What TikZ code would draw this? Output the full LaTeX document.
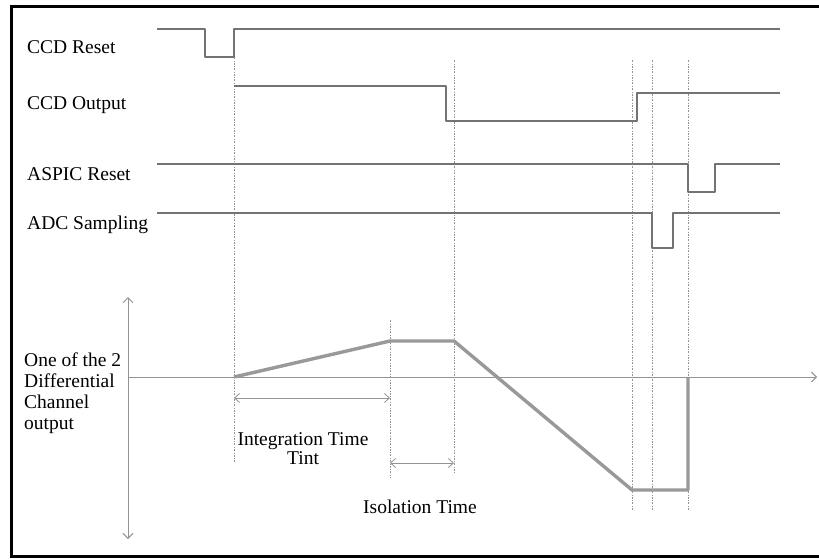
\documentclass[tikz,border=0pt]{standalone}
\usepackage{fontspec}
\setmainfont{Liberation Serif}
\usetikzlibrary{arrows.meta}
\begin{document}
\begin{tikzpicture}[x=1pt,y=-1pt,
  sig/.style={draw=gray!90!black, line width=1.6pt, line join=round},
  wave/.style={draw=gray!80, line width=3.4pt, line join=round},
  guide/.style={draw=gray!85, line width=0.7pt, dash pattern=on 2pt off 1.5pt on 0.6pt off 1.5pt},
  axis/.style={draw=gray!85, line width=1pt},
  dim/.style={draw=gray!85, line width=0.8pt, {Straight Barb[length=5pt,width=9pt]}-{Straight Barb[length=5pt,width=9pt]}},
  lbl/.style={inner sep=0pt, font=\fontsize{19.5}{21}\selectfont}]
\useasboundingbox (0,0) rectangle (819,558);
\fill[white] (0,0) rectangle (819,558);
\draw[line width=3pt] (11,6) rectangle (822,556);

% guide lines
\draw[guide] (234,57) -- (234,462);
\draw[guide] (390,320) -- (390,477);
\draw[guide] (454,60) -- (454,473);
\draw[guide] (632,60) -- (632,510);
\draw[guide] (652,60) -- (652,510);
\draw[guide] (688,60) -- (688,510);

% signals
\draw[sig] (157,29) -- (205,29) -- (205,57) -- (234,57) -- (234,29) -- (780,29);
\draw[sig] (234,86) -- (446,86) -- (446,121) -- (637,121) -- (637,93) -- (780,93);
\draw[sig] (157,164) -- (688,164) -- (688,192) -- (715,192) -- (715,164) -- (780,164);
\draw[sig] (157,213) -- (652,213) -- (652,248) -- (673,248) -- (673,213) -- (780,213);

% labels
\node[lbl, anchor=base west] (l1) at (27,53) {CCD Reset};
\node[lbl, anchor=base west] (l2) at (27,109) {CCD Output};
\node[lbl, anchor=base west] (l3) at (27,180) {ASPIC Reset};
\node[lbl, anchor=base west] (l4) at (27,229) {ADC Sampling};
\node[lbl, anchor=north west, align=left] (l5) at (24,353) {One of the 2\\Differential\\Channel\\output};

% axes
\coordinate (ytop) at (128,297);
\coordinate (ybot) at (128,539);
\coordinate (x0) at (128,377);
\coordinate (xend) at (817,377);
\draw[axis, {Straight Barb[length=5pt,width=10pt]}-{Straight Barb[length=5pt,width=10pt]}] (ytop) -- (ybot);
\draw[axis, -{Straight Barb[length=5pt,width=10pt]}] (x0) -- (xend);

% waveform
\draw[wave] (234,377) -- (390,341) -- (454,341) -- (632,490) -- (688,490) -- (688,377);

% dimension arrows
\coordinate (i1) at (234,398);
\coordinate (i2) at (390,398);
\coordinate (s1) at (390,463);
\coordinate (s2) at (454,463);
\draw[dim] (i1) -- (i2);
\draw[dim] (s1) -- (s2);
\node[lbl, anchor=base] (t1) at (303,445) {Integration Time};
\node[lbl, anchor=base] (t2) at (303,464) {Tint};
\node[lbl, anchor=base] (t3) at (420,513) {Isolation Time};
\end{tikzpicture}
\end{document}
